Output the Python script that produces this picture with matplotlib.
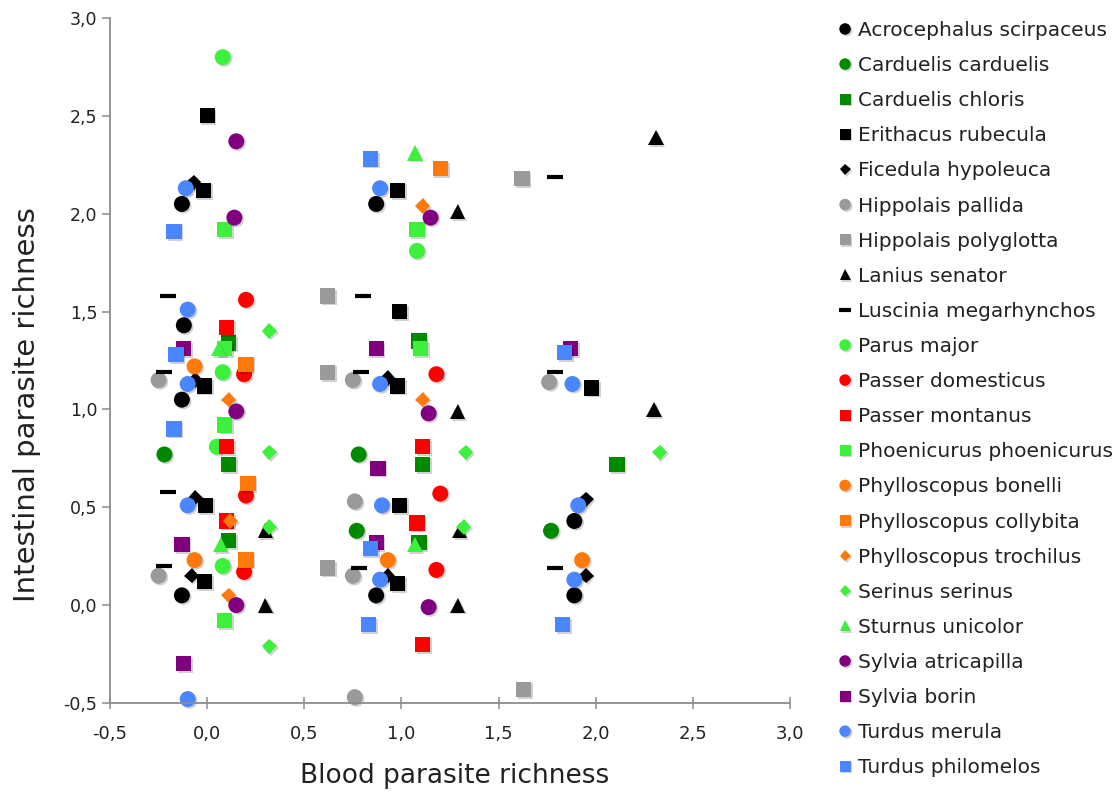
import matplotlib
matplotlib.use("Agg")
import matplotlib.pyplot as plt
import matplotlib.patheffects as pe
from matplotlib.ticker import FuncFormatter, MultipleLocator

# --- datos: (blood, intestinal) por especie ---
acrocephalus = [(-0.13, 2.05), (-0.12, 1.43), (-0.13, 1.05), (-0.13, 0.05),
                (0.87, 2.05), (0.87, 0.05), (1.89, 0.43), (1.89, 0.05)]
carduelis_carduelis = [(-0.22, 0.77), (0.78, 0.77), (0.77, 0.38), (1.77, 0.38)]
carduelis_chloris = [(0.11, 1.34), (0.11, 0.72), (0.11, 0.33), (1.09, 1.35),
                     (1.11, 0.72), (1.09, 0.32), (2.11, 0.72)]
erithacus = [(0.0, 2.5), (-0.02, 2.12), (-0.015, 1.12), (-0.01, 0.51), (-0.015, 0.12),
             (0.99, 1.5), (0.98, 2.12), (0.98, 1.12), (0.99, 0.51), (0.98, 0.11), (1.98, 1.11)]
ficedula = [(-0.07, 2.16), (-0.06, 1.15), (-0.06, 0.55), (-0.08, 0.15),
            (0.93, 1.16), (0.93, 0.15), (1.95, 0.54), (1.95, 0.15)]
hippolais_pallida = [(-0.25, 1.15), (-0.25, 0.15), (0.75, 1.15), (0.76, 0.53),
                     (0.75, 0.15), (0.76, -0.47), (1.76, 1.14)]
hippolais_polyglotta = [(0.62, 1.58), (0.62, 1.19), (0.62, 0.19), (1.62, 2.18), (1.63, -0.43)]
lanius = [(0.30, 0.38), (0.30, 0.0), (1.29, 2.01), (1.29, 0.99), (1.30, 0.38),
          (1.29, 0.0), (2.31, 2.39), (2.30, 1.0)]
luscinia = [(-0.20, 1.58), (-0.22, 1.19), (-0.20, 0.58), (-0.22, 0.20), (0.80, 1.58),
            (0.79, 1.19), (0.78, 0.19), (1.79, 2.19), (1.79, 1.19), (1.79, 0.19)]
parus = [(0.08, 2.8), (0.08, 1.19), (0.05, 0.81), (0.08, 0.2), (1.08, 1.81)]
passer_domesticus = [(0.2, 1.56), (0.19, 1.18), (0.2, 0.56), (0.19, 0.17),
                     (1.18, 1.18), (1.2, 0.57), (1.18, 0.18)]
passer_montanus = [(0.1, 1.42), (0.1, 0.81), (0.1, 0.43), (1.11, 0.81), (1.08, 0.42), (1.11, -0.2)]
phoenicurus = [(0.09, 1.92), (0.09, 1.31), (0.09, 0.92), (0.09, -0.08), (1.08, 1.92), (1.1, 1.31)]
bonelli = [(-0.065, 1.22), (-0.065, 0.23), (0.93, 0.23), (1.93, 0.23)]
collybita = [(0.2, 1.23), (0.21, 0.62), (0.2, 0.23), (1.2, 2.23)]
trochilus = [(0.11, 1.05), (0.12, 0.43), (0.11, 0.05), (1.11, 2.04), (1.11, 1.05)]
serinus = [(0.32, 1.4), (0.32, 0.78), (0.32, 0.4), (0.32, -0.21), (1.33, 0.78), (1.32, 0.4), (2.33, 0.78)]
sturnus = [(0.06, 1.31), (0.07, 0.31), (1.07, 2.31), (1.07, 0.31)]
atricapilla = [(0.15, 2.37), (0.14, 1.98), (0.15, 0.99), (0.15, 0.0),
               (1.15, 1.98), (1.14, 0.98), (1.14, -0.01)]
borin = [(-0.12, 1.31), (-0.13, 0.31), (-0.12, -0.30), (0.87, 1.31),
         (0.88, 0.70), (0.87, 0.32), (1.87, 1.31)]
merula = [(-0.11, 2.13), (-0.1, 1.51), (-0.1, 1.13), (-0.1, 0.51), (-0.1, -0.48),
          (0.89, 2.13), (0.89, 1.13), (0.9, 0.51), (0.89, 0.13),
          (1.88, 1.13), (1.91, 0.51), (1.89, 0.13)]
philomelos = [(-0.17, 1.91), (-0.16, 1.28), (-0.17, 0.9), (0.84, 2.28),
              (0.84, 0.29), (0.83, -0.1), (1.84, 1.29), (1.83, -0.1)]

nombres = ["Acrocephalus scirpaceus", "Carduelis carduelis", "Carduelis chloris",
           "Erithacus rubecula", "Ficedula hypoleuca", "Hippolais pallida",
           "Hippolais polyglotta", "Lanius senator", "Luscinia megarhynchos",
           "Parus major", "Passer domesticus", "Passer montanus",
           "Phoenicurus phoenicurus", "Phylloscopus bonelli", "Phylloscopus collybita",
           "Phylloscopus trochilus", "Serinus serinus", "Sturnus unicolor",
           "Sylvia atricapilla", "Sylvia borin", "Turdus merula", "Turdus philomelos"]
puntos = [acrocephalus, carduelis_carduelis, carduelis_chloris, erithacus, ficedula,
          hippolais_pallida, hippolais_polyglotta, lanius, luscinia, parus,
          passer_domesticus, passer_montanus, phoenicurus, bonelli, collybita,
          trochilus, serinus, sturnus, atricapilla, borin, merula, philomelos]

NEGRO, VERDE_OSC, VERDE, GRIS = "#000000", "#008a00", "#3cf03c", "#9a9a9a"
ROJO, NARANJA, MORADO, AZUL = "#ff0000", "#ff7a0a", "#800080", "#4a86ff"
colores = [NEGRO, VERDE_OSC, VERDE_OSC, NEGRO, NEGRO, GRIS, GRIS, NEGRO, NEGRO, VERDE,
           ROJO, ROJO, VERDE, NARANJA, NARANJA, NARANJA, VERDE, VERDE, MORADO, MORADO,
           AZUL, AZUL]
marcadores = ["o", "o", "s", "s", "D", "o", "s", "^", "_", "o", "o", "s", "s", "o", "s",
              "D", "D", "^", "o", "s", "o", "s"]
TAM = {"o": 11.5, "s": 11.0, "D": 7.8, "^": 11.0, "_": 11.5}

fig = plt.figure(figsize=(11.16, 7.94), dpi=100)
ax = fig.add_axes([110 / 1116, 1 - 703 / 794, 680 / 1116, 685 / 794])

sombra = [pe.SimplePatchShadow(offset=(1.2, -1.2), shadow_rgbFace="k", alpha=0.18), pe.Normal()]

for nombre, pts, col, mk in zip(nombres, puntos, colores, marcadores):
    xs = [p[0] for p in pts]
    ys = [p[1] for p in pts]
    ax.plot(xs, ys, linestyle="none", marker=mk, markersize=TAM[mk],
            color=col, markerfacecolor=col, markeredgecolor=col,
            markeredgewidth=3.0 if mk == "_" else 0.0,
            clip_on=False, path_effects=sombra, label=nombre)

ax.set_xlim(-0.5, 3.0)
ax.set_ylim(-0.5, 3.0)
ax.xaxis.set_major_locator(MultipleLocator(0.5))
ax.yaxis.set_major_locator(MultipleLocator(0.5))
coma = FuncFormatter(lambda v, pos: f"{v:.1f}".replace(".", ","))
ax.xaxis.set_major_formatter(coma)
ax.yaxis.set_major_formatter(coma)

for lado in ["top", "right"]:
    ax.spines[lado].set_visible(False)
for lado in ["left", "bottom"]:
    ax.spines[lado].set_color("#8c8c8c")
    ax.spines[lado].set_linewidth(1.3)
ax.tick_params(axis="x", direction="inout", length=8, width=1.1, color="#8c8c8c",
               labelsize=13, labelcolor="#222222", pad=12)
ax.tick_params(axis="y", direction="out", length=6, width=1.1, color="#8c8c8c",
               labelsize=12.5, labelcolor="#222222", pad=3)

fig.text(455 / 1116, 1 - 776 / 794, "Blood parasite richness", ha="center", va="center",
         fontsize=19, color="#222222")
fig.text(27 / 1116, 1 - 405 / 794, "Intestinal parasite richness", ha="center", va="center",
         rotation=90, fontsize=21, color="#222222")

leg = fig.legend(loc="upper left", bbox_to_anchor=(837 / 1116, 1 - 21 / 794),
                 frameon=False, fontsize=14.5, handlelength=0.8, handletextpad=0.25,
                 labelspacing=0.8, borderpad=0, borderaxespad=0, markerscale=0.72)
for t in leg.get_texts():
    t.set_color("#222222")

fig.savefig("out.png", dpi=100)
